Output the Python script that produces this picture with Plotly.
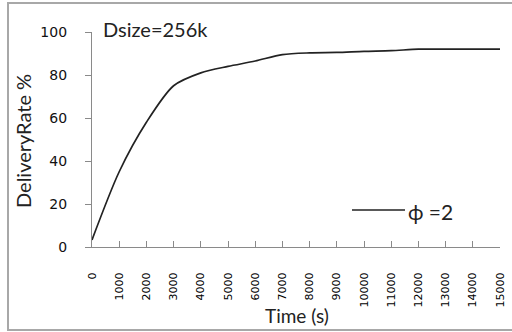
import plotly.graph_objects as go

time_s = [0, 1000, 2000, 3000, 4000, 5000, 6000, 7000, 8000, 9000,
          10000, 11000, 12000, 13000, 14000, 15000]
delivery_rate = [3.3, 35, 58, 75, 81, 84, 86.5, 89.5, 90.3, 90.5,
                 91, 91.3, 92, 92, 92, 92]
x_ticks = [str(t) for t in time_s]
y_ticks = [0, 20, 40, 60, 80, 100]
series_name = "ϕ =2"
chart_label = "Dsize=256k"

W, H = 512, 332
L, R, T, B = 92, 12, 32, 85
pw, ph = W - L - R, H - T - B


def px(x):
    return (x - L) / pw


def py(y):
    return (H - B - y) / ph


fig = go.Figure()
fig.add_trace(go.Scatter(
    x=time_s, y=delivery_rate, mode="lines", name=series_name,
    line=dict(color="#222222", width=1.7, shape="spline", smoothing=0.8),
    showlegend=False,
))

axis_gray = "#8a8a8a"
fig.update_layout(
    width=W, height=H,
    margin=dict(l=L, r=R, t=T, b=B, autoexpand=False),
    paper_bgcolor="white", plot_bgcolor="white",
    font=dict(family="DejaVu Sans", color="#111"),
    xaxis=dict(
        range=[0, 15000], tickvals=time_s, ticktext=x_ticks,
        tickangle=-90, ticks="inside", ticklen=6, tickcolor=axis_gray,
        tickwidth=1.2, showline=True, linecolor=axis_gray, linewidth=1.3,
        showgrid=False, zeroline=False, tickfont=dict(size=11, color="#000"),
        ticklabelstandoff=20, automargin=False,
    ),
    yaxis=dict(
        range=[0, 100], tickvals=y_ticks, ticks="outside", ticklen=6,
        tickcolor=axis_gray, tickwidth=1.2, showline=True,
        linecolor=axis_gray, linewidth=1.3, showgrid=False, zeroline=False,
        tickfont=dict(size=14, color="#111"), ticklabelstandoff=15,
        automargin=False,
    ),
    shapes=[
        dict(type="rect", xref="paper", yref="paper",
             x0=px(8), x1=px(520), y0=py(330), y1=py(3),
             line=dict(color="#a8a8a8", width=2), fillcolor="rgba(0,0,0,0)",
             layer="above"),
        dict(type="line", xref="paper", yref="paper",
             x0=px(352), x1=px(405), y0=py(210), y1=py(210),
             line=dict(color="#222222", width=1.7)),
    ],
    annotations=[
        dict(text=chart_label, xref="paper", yref="paper", x=px(101),
             y=py(29), xanchor="left", yanchor="middle", showarrow=False,
             font=dict(family="Lato", size=20, color="#222")),
        dict(text=series_name, xref="paper", yref="paper", x=px(406),
             y=py(211), xanchor="left", yanchor="middle", showarrow=False,
             font=dict(family="Lato", size=21, color="#222")),
        dict(text="Time (s)", xref="paper", yref="paper", x=px(297),
             y=py(315), xanchor="center", yanchor="middle", showarrow=False,
             font=dict(family="Lato", size=19, color="#222")),
        dict(text="DeliveryRate %", xref="paper", yref="paper", x=px(23),
             y=py(141), xanchor="center", yanchor="middle", showarrow=False,
             textangle=-90, font=dict(family="Lato", size=20, color="#222")),
    ],
)

fig.write_html(
    "out.html",
    config={"displayModeBar": False},
    post_script="document.body.style.margin='0';document.body.style.overflow='hidden';",
)
